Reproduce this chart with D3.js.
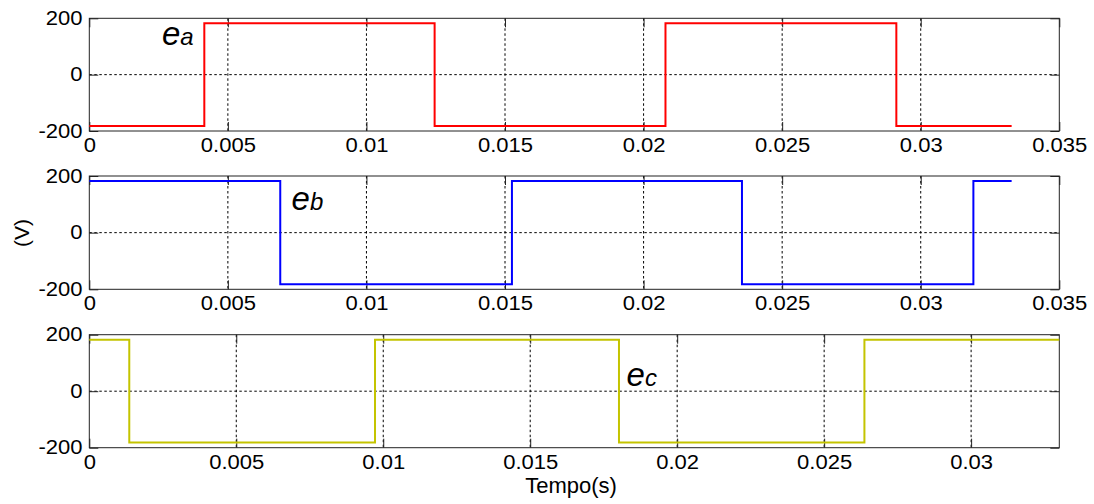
<!DOCTYPE html>
<html>
<head>
<meta charset="utf-8">
<script src="https://cdn.jsdelivr.net/npm/d3@7"></script>
<style>
  html, body { margin: 0; padding: 0; background: #fff; }
  svg { display: block; }
  text { font-family: "Liberation Sans", Arial, sans-serif; fill: #000; }
</style>
</head>
<body>
<svg id="chart" width="1094" height="504"></svg>
<script>
// ---- data ----
const eaTime = [0, 0.00415, 0.01246, 0.02079, 0.02912, 0.03328];
const eaVolt = [-182, 182, -182, 182, -182, -182];
const ebTime = [0, 0.00689, 0.01525, 0.02355, 0.0319, 0.03328];
const ebVolt = [182, -182, 182, -182, 182, 182];
const ecTime = [0, 0.00136, 0.00972, 0.01802, 0.02637, 0.033];
const ecVolt = [182, -182, 182, -182, 182, 182];

const xTicksA = [0, 0.005, 0.01, 0.015, 0.02, 0.025, 0.03, 0.035];
const xTickLabelsA = ["0", "0.005", "0.01", "0.015", "0.02", "0.025", "0.03", "0.035"];
const xTicksC = [0, 0.005, 0.01, 0.015, 0.02, 0.025, 0.03];
const xTickLabelsC = ["0", "0.005", "0.01", "0.015", "0.02", "0.025", "0.03"];
const yTicks = [-200, 0, 200];
const yTickLabels = ["-200", "0", "200"];

const seriesNames = ["a", "b", "c"];
const yLabel = "(V)";
const xLabel = "Tempo(s)";

// ---- layout ----
const svg = d3.select("#chart");
const L = 89.3, R = 1059.3;
const panels = [
  { time: eaTime, volt: eaVolt, xmax: 0.035, ticks: xTicksA, labels: xTickLabelsA, top: 18.3, bottom: 131, color: "#ff0000", name: seriesNames[0], ann: { t: 0.00262, v: 107 } },
  { time: ebTime, volt: ebVolt, xmax: 0.035, ticks: xTicksA, labels: xTickLabelsA, top: 176, bottom: 289.3, color: "#0000ff", name: seriesNames[1], ann: { t: 0.0073, v: 80 } },
  { time: ecTime, volt: ecVolt, xmax: 0.033, ticks: xTicksC, labels: xTickLabelsC, top: 334.7, bottom: 447.7, color: "#c4c400", name: seriesNames[2], ann: { t: 0.01828, v: 19 } }
];

const TICK = 9;
const stretch = "scale(1.13,1)";

panels.forEach(p => {
  const x = d3.scaleLinear().domain([0, p.xmax]).range([L, R]);
  const y = d3.scaleLinear().domain([-200, 200]).range([p.bottom, p.top]);
  const g = svg.append("g");

  // grid
  g.append("g").selectAll("line.vg")
    .data(p.ticks.filter(t => t > 0 && t < p.xmax))
    .join("line")
    .attr("x1", d => x(d)).attr("x2", d => x(d))
    .attr("y1", p.top).attr("y2", p.bottom)
    .attr("stroke", "#000").attr("stroke-width", 1)
    .attr("stroke-dasharray", "2.5,2.5");
  g.append("g").selectAll("line.hg")
    .data(yTicks.filter(v => v > -200 && v < 200))
    .join("line")
    .attr("x1", L).attr("x2", R)
    .attr("y1", d => y(d)).attr("y2", d => y(d))
    .attr("stroke", "#000").attr("stroke-width", 1)
    .attr("stroke-dasharray", "2.5,2.5");

  // axes
  const ax = [
    g.append("g").attr("transform", `translate(0,${p.bottom})`)
      .call(d3.axisBottom(x).tickValues(p.ticks).tickFormat((d, i) => p.labels[i]).tickSizeInner(-TICK).tickSizeOuter(0).tickPadding(7)),
    g.append("g").attr("transform", `translate(${L},0)`)
      .call(d3.axisLeft(y).tickValues(yTicks).tickFormat((d, i) => yTickLabels[i]).tickSizeInner(-TICK).tickSizeOuter(0).tickPadding(6)),
    g.append("g").attr("transform", `translate(0,${p.top})`)
      .call(d3.axisTop(x).tickValues(p.ticks).tickFormat("").tickSizeInner(-TICK).tickSizeOuter(0)),
    g.append("g").attr("transform", `translate(${R},0)`)
      .call(d3.axisRight(y).tickValues(yTicks).tickFormat("").tickSizeInner(-TICK).tickSizeOuter(0))
  ];
  ax.forEach(a => {
    a.select(".domain").remove();
    a.selectAll("line").attr("stroke", "#222");
    a.selectAll("text")
      .style("font-family", '"Liberation Sans", Arial, sans-serif')
      .style("font-size", "19.5px")
      .attr("fill", "#000")
      .attr("transform", stretch);
  });

  // frame
  g.append("rect")
    .attr("x", L).attr("y", p.top)
    .attr("width", R - L).attr("height", p.bottom - p.top)
    .attr("fill", "none").attr("stroke", "#222").attr("stroke-width", 1);

  // series
  const pts = p.time.map((t, i) => [t, p.volt[i]]);
  const line = d3.line().x(d => x(d[0])).y(d => y(d[1])).curve(d3.curveStepAfter);
  g.append("path")
    .datum(pts)
    .attr("d", line)
    .attr("fill", "none")
    .attr("stroke", p.color)
    .attr("stroke-width", 2);

  // annotation
  const t = g.append("text")
    .attr("x", x(p.ann.t)).attr("y", y(p.ann.v))
    .style("font-style", "italic");
  t.append("tspan").style("font-size", "33px").text("e");
  t.append("tspan").style("font-size", "24px").text(p.name);
});

// axis labels
svg.append("text")
  .attr("transform", "translate(29,233) rotate(-90)")
  .attr("text-anchor", "middle")
  .style("font-size", "21px")
  .text(yLabel);
svg.append("text")
  .attr("x", 571).attr("y", 493)
  .attr("text-anchor", "middle")
  .style("font-size", "22px")
  .text(xLabel);
</script>
</body>
</html>
